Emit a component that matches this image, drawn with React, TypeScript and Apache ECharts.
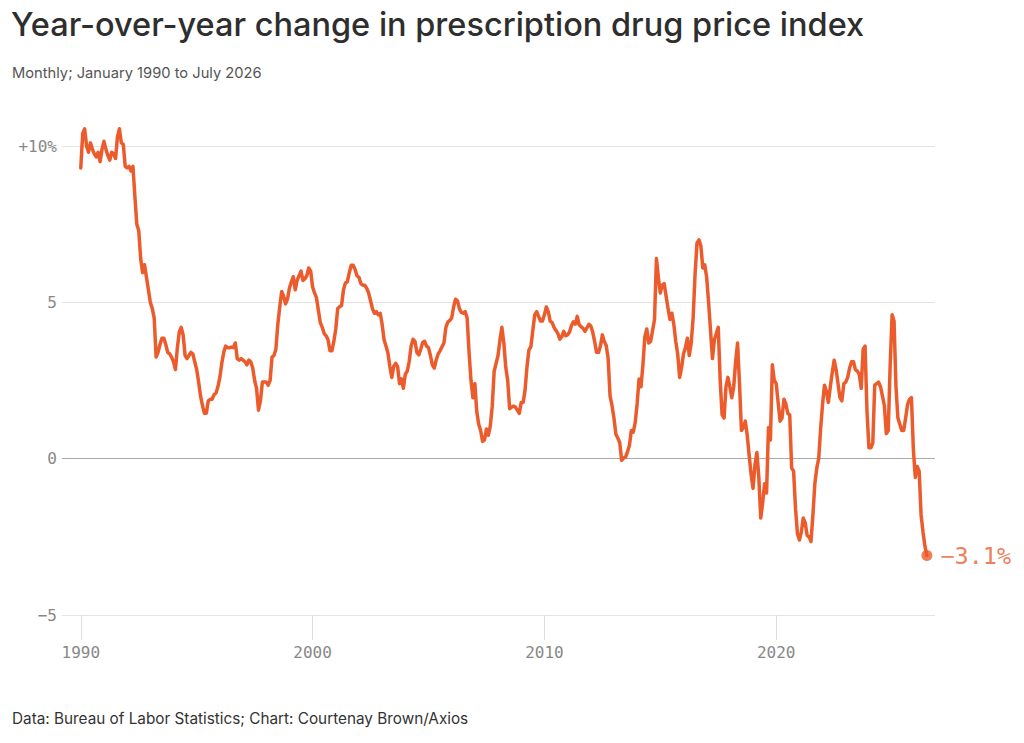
import React, { useEffect, useRef } from "react";
import * as echarts from "echarts";

// Monthly year-over-year % change, January 1990 onward
const values1990s: number[] = [
  // 1990
  9.3, 10.4, 10.55, 10.0, 9.8, 10.1, 9.9, 9.75, 9.65, 9.8, 9.5, 9.9,
  // 1991
  10.15, 9.9, 9.7, 9.55, 9.8, 9.75, 9.6, 10.3, 10.55, 10.1, 10.05, 9.35,
  // 1992
  9.3, 9.35, 9.2, 9.35, 8.4, 7.5, 7.3, 6.4, 5.95, 6.2, 5.8, 5.4,
  // 1993
  5.0, 4.8, 4.5, 3.25, 3.4, 3.65, 3.85, 3.85, 3.65, 3.4, 3.35, 3.25,
  // 1994
  3.1, 2.85, 3.55, 4.05, 4.2, 3.95, 3.3, 3.2, 3.3, 3.4, 3.35, 3.1,
  // 1995
  2.85, 2.45, 2.0, 1.7, 1.45, 1.45, 1.85, 1.9, 1.9, 2.05, 2.1, 2.3,
  // 1996
  2.6, 3.05, 3.4, 3.6, 3.55, 3.55, 3.57, 3.55, 3.7, 3.2, 3.15, 3.2,
  // 1997
  3.15, 3.1, 3.0, 3.15, 3.1, 2.9, 2.5, 2.25, 1.55, 1.85, 2.45, 2.45,
  // 1998
  2.45, 2.35, 2.5, 3.25, 3.3, 3.5, 4.3, 4.85, 5.35, 5.2, 4.95, 5.1,
  // 1999
  5.45, 5.65, 5.82, 5.4, 5.7, 5.85, 6.0, 5.7, 5.75, 5.85, 6.1, 6.0,
];

const values2000s: number[] = [
  // 2000
  5.5, 5.3, 5.15, 4.75, 4.35, 4.2, 4.0, 3.93, 3.8, 3.45, 3.45, 3.75,
  // 2001
  4.15, 4.8, 4.86, 4.9, 5.4, 5.62, 5.66, 5.95, 6.19, 6.19, 6.05, 5.85,
  // 2002
  5.8, 5.6, 5.55, 5.55, 5.45, 5.3, 5.05, 4.8, 4.65, 4.7, 4.6, 4.65,
  // 2003
  4.3, 3.8, 3.6, 3.38, 2.95, 2.6, 2.95, 3.05, 2.95, 2.4, 2.55, 2.25,
  // 2004
  2.7, 2.8, 3.1, 3.6, 3.82, 3.75, 3.4, 3.32, 3.5, 3.72, 3.75, 3.6,
  // 2005
  3.55, 3.3, 3.0, 2.9, 3.16, 3.35, 3.45, 3.58, 3.7, 4.2, 4.37, 4.42,
  // 2006
  4.5, 4.85, 5.1, 5.05, 4.8, 4.68, 4.65, 4.7, 4.5, 3.4, 2.5, 1.95,
  // 2007
  2.4, 1.5, 1.1, 0.9, 0.55, 0.6, 0.95, 0.75, 1.05, 1.68, 2.8, 3.05,
  // 2008
  3.3, 3.8, 4.2, 3.7, 2.92, 2.5, 1.6, 1.65, 1.68, 1.65, 1.55, 1.45,
  // 2009
  1.8, 1.8, 2.2, 2.95, 3.48, 3.58, 4.1, 4.6, 4.7, 4.55, 4.4, 4.4,
];

const values2010s: number[] = [
  // 2010
  4.6, 4.85, 4.7, 4.4, 4.35, 4.2, 4.1, 4.0, 3.82, 3.9, 4.07, 3.93,
  // 2011
  3.96, 4.05, 4.25, 4.38, 4.3, 4.55, 4.28, 4.22, 4.17, 4.07, 4.18, 4.3,
  // 2012
  4.25, 4.05, 3.75, 3.4, 3.4, 3.6, 3.96, 3.75, 3.62, 3.2, 2.0, 1.7,
  // 2013
  1.3, 0.78, 0.66, 0.51, -0.05, 0.02, 0.05, 0.22, 0.42, 0.9, 0.85, 1.15,
  // 2014
  1.75, 2.55, 2.3, 3.0, 3.9, 4.15, 3.7, 3.75, 4.1, 4.45, 6.4, 5.8,
  // 2015
  5.3, 5.55, 5.6, 5.2, 4.8, 4.45, 4.65, 4.3, 3.75, 3.35, 2.6, 2.9,
  // 2016
  3.35, 3.55, 3.85, 3.3, 3.7, 4.5, 5.9, 6.9, 7.0, 6.8, 6.1, 6.2,
  // 2017
  5.8, 5.0, 4.1, 3.2, 3.8, 4.0, 4.2, 2.5, 1.4, 1.3, 2.3, 2.6,
  // 2018
  2.3, 1.95, 2.3, 3.1, 3.7, 2.4, 0.9, 1.0, 1.2, 0.75, 0.1, -0.5,
  // 2019
  -0.95, -0.2, 0.2, -0.6, -1.9, -1.4, -0.8, -1.1, 1.0, 0.6, 3.0, 2.5,
];

const values2020s: number[] = [
  // 2020
  2.4, 1.8, 1.2, 1.3, 1.9, 1.75, 1.45, 1.4, -0.3, -0.4, -1.6, -2.4,
  // 2021
  -2.6, -2.35, -1.9, -2.05, -2.45, -2.5, -2.65, -1.8, -0.8, -0.3, 0.0, 0.95,
  // 2022
  1.75, 2.35, 2.15, 1.8, 2.3, 2.75, 3.15, 2.85, 2.4, 1.95, 1.85, 2.4,
  // 2023
  2.45, 2.6, 2.9, 3.1, 3.1, 2.85, 2.8, 2.7, 2.25, 3.5, 3.6, 1.5,
  // 2024
  0.35, 0.35, 0.5, 2.35, 2.4, 2.45, 2.3, 2.0, 1.7, 0.8, 0.9, 3.0,
  // 2025
  4.6, 4.4, 2.3, 1.3, 1.1, 0.9, 0.9, 1.3, 1.73, 1.9, 1.95, 0.3,
  // 2026 (Jan - Jul)
  -0.6, -0.25, -0.4, -1.8, -2.35, -2.8, -3.1,
];

const START_YEAR = 1990;
const xTickYears = [1990, 2000, 2010, 2020];
const yTicks = [-5, 0, 5, 10];
const lastLabel = "\u22123.1%";

const TITLE = "Year-over-year change in prescription drug price index";
const SUBTITLE = "Monthly; January 1990 to July 2026";
const FOOTER = "Data: Bureau of Labor Statistics; Chart: Courtenay Brown/Axios";

const ORANGE = "#ec5b2c";
const MONO = "'DejaVu Sans Mono', 'Liberation Mono', monospace";
const SANS = "Inter, 'Noto Sans', sans-serif";

export default function App() {
  const ref = useRef<HTMLDivElement>(null);

  useEffect(() => {
    if (!ref.current) return;
    const chart = echarts.init(ref.current, undefined, { renderer: "svg" });
    const all = [...values1990s, ...values2000s, ...values2010s, ...values2020s];
    const seriesData = all.map((v, i) => [START_YEAR + i / 12, v]);
    const last = seriesData[seriesData.length - 1];

    chart.setOption({
      animation: false,
      backgroundColor: "#ffffff",
      grid: { left: 62, right: 89, top: 146, bottom: 128, containLabel: false },
      graphic: [
        {
          type: "text",
          left: 11,
          top: 8,
          style: { text: TITLE, fontSize: 32.5, fontFamily: SANS, fill: "#2e2e2e", fontWeight: 500 },
        },
        {
          type: "text",
          left: 12,
          top: 65,
          style: { text: SUBTITLE, fontSize: 14.7, fontFamily: SANS, fill: "#555555" },
        },
        {
          type: "text",
          left: 12,
          top: 711,
          style: { text: FOOTER, fontSize: 15.3, fontFamily: SANS, fill: "#333333" },
        },
      ],
      xAxis: {
        type: "value",
        min: 1989.19,
        max: 2026.85,
        splitLine: { show: false },
        axisLine: { show: false, onZero: false },
        axisTick: {
          show: true,
          customValues: xTickYears,
          length: 25,
          lineStyle: { color: "#dddddd", width: 1 },
        },
        axisLabel: {
          customValues: xTickYears,
          margin: 29,
          color: "#888888",
          fontFamily: MONO,
          fontSize: 16,
          formatter: (v: number) => String(v),
        },
      },
      yAxis: {
        type: "value",
        min: -5,
        max: 10,
        interval: 5,
        axisLine: { show: false },
        axisTick: { show: false },
        splitLine: { show: true, lineStyle: { color: "#e4e4e4", width: 1 } },
        axisLabel: {
          margin: 5,
          color: "#888888",
          fontFamily: MONO,
          fontSize: 16,
          customValues: yTicks,
          formatter: (v: number) =>
            v === 10 ? "+10%" : v < 0 ? "\u2212" + Math.abs(v) : String(v),
        },
      },
      series: [
        {
          type: "line",
          data: seriesData,
          showSymbol: false,
          symbol: "none",
          clip: false,
          lineStyle: { color: ORANGE, width: 3.5, join: "round", cap: "round" },
          itemStyle: { color: ORANGE },
          z: 3,
          markLine: {
            silent: true,
            symbol: "none",
            label: { show: false },
            lineStyle: { color: "#aaaaaa", type: "solid", width: 1 },
            data: [{ yAxis: 0 }],
            z: 1,
          },
        },
        {
          type: "scatter",
          data: [last],
          symbol: "circle",
          symbolSize: 11,
          clip: false,
          itemStyle: { color: ORANGE },
          z: 4,
          label: {
            show: true,
            position: "right",
            distance: 8,
            formatter: () => lastLabel,
            color: ORANGE,
            fontFamily: MONO,
            fontSize: 23.5,
          },
        },
      ],
    });

    return () => chart.dispose();
  }, []);

  return (
    <div
      ref={ref}
      style={{ position: "fixed", left: 0, top: 0, width: 1024, height: 743, background: "#fff" }}
    />
  );
}
